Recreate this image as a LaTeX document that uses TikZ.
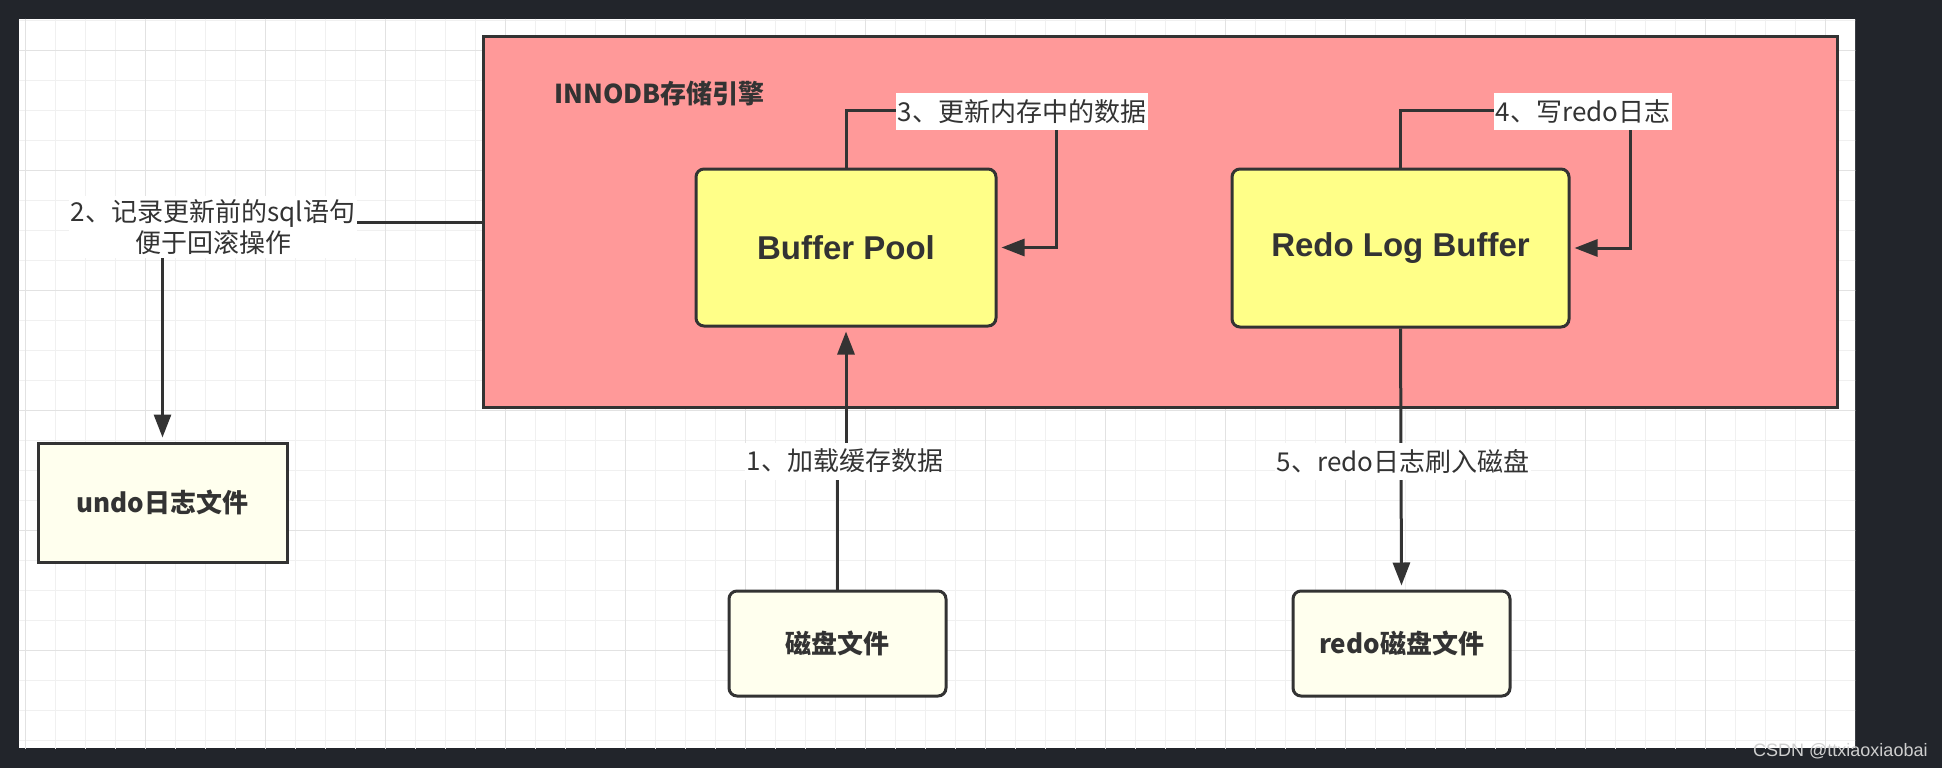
\documentclass[tikz,border=0pt]{standalone}
\usepackage{fontspec}
\setmainfont{Liberation Sans}
\newfontfamily\cjk{Noto Sans CJK SC}
\usetikzlibrary{arrows.meta}
\definecolor{bgdark}{HTML}{22252B}
\definecolor{gridminor}{HTML}{F0F0F0}
\definecolor{gridmajor}{HTML}{E2E2E2}
\definecolor{pinkfill}{HTML}{FF9999}
\definecolor{yel}{HTML}{FFFF88}
\definecolor{lightyel}{HTML}{FFFFEE}
\definecolor{ink}{HTML}{333333}
\definecolor{wmark}{HTML}{CFCFCF}
\tikzset{
  box/.style={draw=ink, line width=3pt, rectangle, text=ink, inner sep=0pt},
  bigbox/.style={box, rounded corners=8pt, fill=yel, font=\fontsize{33}{40}\selectfont\bfseries},
  filebox/.style={box, rounded corners=8pt, fill=lightyel, font=\cjk\bfseries\fontsize{26}{31}\selectfont},
  elabel/.style={fill=white, text=ink, font=\cjk\fontsize{26}{31}\selectfont, inner xsep=2pt, inner ysep=0pt, minimum height=37pt},
  conn/.style={draw=ink, line width=3pt},
  arr/.style={conn, -{Triangle[length=23pt,width=17pt]}, shorten >=4pt},
}
\begin{document}
\begin{tikzpicture}[x=1pt,y=-1pt]
\useasboundingbox (0,0) rectangle (1942,768);
\fill[bgdark] (0,0) rectangle (1942,768);
\fill[white] (18.6,18.6) rectangle (1855,748);
\begin{scope}
  \clip (18.6,18.6) rectangle (1855,748);
  \foreach \i in {0,...,61} {\draw[gridminor, line width=1pt] ({25.4+30*\i},18.6) -- ++(0,730);}
  \foreach \j in {0,...,24} {\draw[gridminor, line width=1pt] (18.6,{20.7+30*\j}) -- ++(1837,0);}
  \foreach \i in {0,...,15} {\draw[gridmajor, line width=1.3pt] ({25.4+120*\i},18.6) -- ++(0,730);}
  \foreach \j in {0,...,5} {\draw[gridmajor, line width=1.3pt] (18.6,{50.7+120*\j}) -- ++(1837,0);}
\end{scope}

% container
\node[box, fill=pinkfill, minimum width=1354pt, minimum height=370pt] (pink) at (1160,222) {};
\node[anchor=west, text=ink, font=\cjk\bfseries\fontsize{26}{31}\selectfont, inner sep=0pt] (title) at (554,94) {INNODB存储引擎};

% main boxes
\node[bigbox, minimum width=300pt, minimum height=157pt] (bp) at (846,247.5) {Buffer Pool};
\node[bigbox, minimum width=337pt, minimum height=158pt] (rlb) at (1400.5,248) {Redo Log Buffer};
\node[box, fill=lightyel, font=\cjk\bfseries\fontsize{26}{31}\selectfont, minimum width=249pt, minimum height=119pt] (undo) at (162.5,502.5) {undo日志文件};
\node[filebox, minimum width=217pt, minimum height=105pt] (disk) at (837.5,643.5) {磁盘文件};
\node[filebox, minimum width=217pt, minimum height=105pt] (rdisk) at (1401.5,643.5) {redo磁盘文件};

% corner coordinates
\coordinate (c3) at (1056,110);
\coordinate (c4) at (1630,110);
\coordinate (l1pos) at (845,461);

% connectors
\draw[arr] (disk.north) |- (l1pos) -| (bp.south);
\draw[arr] (bp.north) |- (c3) |- (bp.east);
\draw[arr] (rlb.north) |- (c4) |- (rlb.east);
\draw[arr] (pink.west) -| (undo.north);
\draw[arr] (rlb.south) -- (rdisk.north);

% labels
\node[elabel] (l1) at (l1pos) {1、加载缓存数据};
\node[elabel, align=center, inner ysep=3pt] (l2) at (213,227) {2、记录更新前的sql语句\\便于回滚操作};
\node[elabel] (l3) at (1022,111.5) {3、更新内存中的数据};
\node[elabel] (l4) at (1583,111.5) {4、写redo日志};
\node[elabel] (l5) at (1403,461) {5、redo日志刷入磁盘};

% watermark
\node[anchor=west, text=wmark, font=\fontsize{18}{20}\selectfont, inner sep=0pt] (wm) at (1753,751) {CSDN @ttxiaoxiaobai};
\end{tikzpicture}
\end{document}
